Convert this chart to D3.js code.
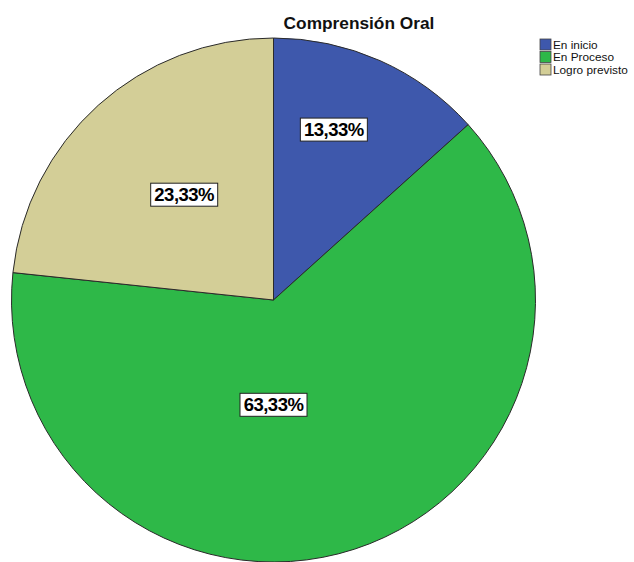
<!DOCTYPE html>
<html>
<head>
<meta charset="utf-8">
<script src="https://cdn.jsdelivr.net/npm/d3@7"></script>
<style>
  body { margin: 0; background: #fff; }
  svg { display: block; font-family: "Liberation Sans", Arial, sans-serif; }
</style>
</head>
<body>
<svg id="chart"></svg>
<script>
// values
const categories = ['En inicio', 'En Proceso', 'Logro previsto'];
const percents = [13.33, 63.33, 23.33];
const colors = ['#3e58ac', '#2eb848', '#d3ce97'];

const width = 634;
const height = 562;
const cx = 273.5;
const cy = 300;
const radius = 262;

// where SPSS put each label: angle (deg, clockwise from top), fraction of radius
const labelSpots = [[19.5, 0.69], [180, 0.4], [319.7, 0.527]];

const svg = d3.select('#chart')
  .attr('width', width)
  .attr('height', height);

svg.append('text')
  .attr('x', 359)
  .attr('y', 29)
  .attr('text-anchor', 'middle')
  .attr('font-size', '17.3px')
  .attr('font-weight', 'bold')
  .attr('fill', '#111')
  .text('Comprensión Oral');

const pie = d3.pie().sort(null).value(d => d);
const arc = d3.arc().innerRadius(0).outerRadius(radius);
const arcs = pie(percents);

const g = svg.append('g').attr('transform', `translate(${cx},${cy})`);

g.selectAll('path')
  .data(arcs)
  .enter().append('path')
  .attr('d', arc)
  .attr('fill', (d, i) => colors[i])
  .attr('stroke', '#2a2a2a')
  .attr('stroke-width', 1);

const fmt = v => v.toFixed(2).replace('.', ',') + '%';

const labels = g.selectAll('.lbl')
  .data(arcs)
  .enter().append('g')
  .attr('class', 'lbl')
  .attr('transform', (d, i) => {
    const a = labelSpots[i][0] * Math.PI / 180;
    const r = labelSpots[i][1] * radius;
    return `translate(${r * Math.sin(a)},${-r * Math.cos(a)})`;
  });

labels.append('rect')
  .attr('x', -33.5)
  .attr('y', -11.5)
  .attr('width', 67)
  .attr('height', 23)
  .attr('fill', '#fff')
  .attr('stroke', '#222')
  .attr('stroke-width', 1);

labels.append('text')
  .attr('text-anchor', 'middle')
  .attr('dy', '0.36em')
  .attr('font-size', '18.5px')
  .attr('font-weight', 'bold')
  .attr('letter-spacing', '-0.5px')
  .attr('fill', '#000')
  .text(d => fmt(d.data));

// legend
const legend = svg.append('g').attr('transform', 'translate(540,39)');
const rows = legend.selectAll('g')
  .data(categories)
  .enter().append('g')
  .attr('transform', (d, i) => `translate(0,${i * 12.5})`);

rows.append('rect')
  .attr('width', 11)
  .attr('height', 11)
  .attr('fill', (d, i) => colors[i])
  .attr('stroke', '#444')
  .attr('stroke-width', 0.8);

rows.append('text')
  .attr('x', 13)
  .attr('y', 9.8)
  .attr('font-size', '11.8px')
  .attr('fill', '#111')
  .text(d => d);
</script>
</body>
</html>
